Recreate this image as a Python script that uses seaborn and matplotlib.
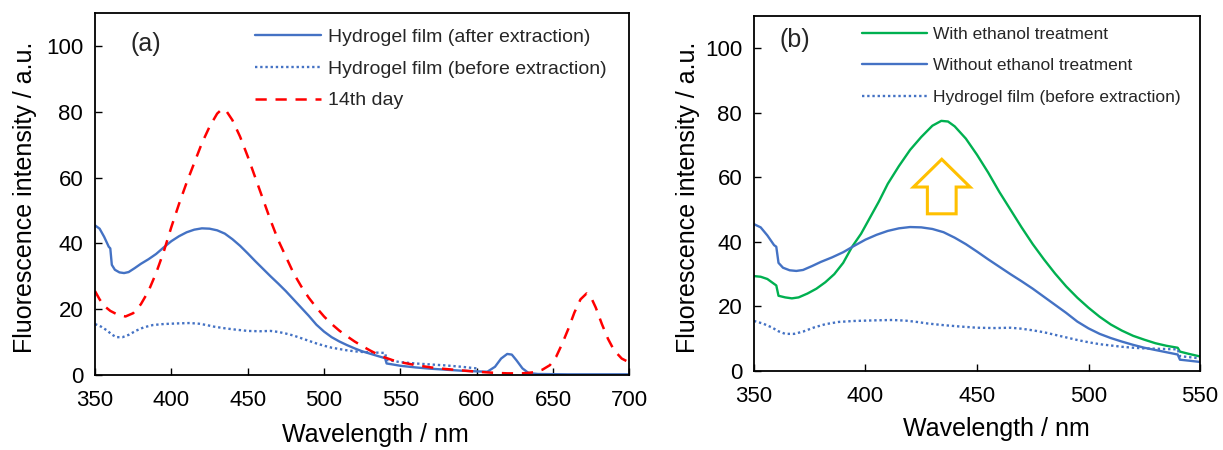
import matplotlib.pyplot as plt
from matplotlib.patches import FancyArrow
import seaborn as sns
import numpy as np

# Hydrogel film (after extraction) == without ethanol treatment
wl_after = [350, 353, 356, 359, 360, 361, 363, 366, 369, 372, 376, 380, 385, 390, 395,
            400, 405, 410, 415, 420, 425, 430, 435, 440, 445, 450, 455, 460, 465, 470,
            475, 480, 485, 490, 495, 500, 505, 510, 515, 520, 525, 530, 535, 540, 541,
            545, 550, 560, 570, 580, 590, 600, 607, 612, 616, 620, 623, 626, 630, 634,
            640, 660, 700]
int_after = [45.5, 44.5, 42, 39, 38.5, 33.5, 32, 31.2, 31, 31.3, 32.5, 33.8, 35.2, 36.8, 38.8,
             40.7, 42.2, 43.4, 44.2, 44.6, 44.5, 44, 43, 41.3, 39.3, 37, 34.6, 32.3, 30, 27.8,
             25.5, 23, 20.5, 18, 15.3, 13.2, 11.5, 10.2, 9.1, 8.1, 7.2, 6.5, 5.8, 5.1, 3.5,
             3.2, 2.8, 2.3, 1.9, 1.6, 1.3, 1.1, 1.0, 2.5, 5, 6.4, 6.2, 4.5, 2.0, 0.6,
             0.3, 0.2, 0.2]

# Hydrogel film (before extraction)
wl_before = [350, 354, 358, 361, 364, 368, 372, 377, 382, 388, 395, 405, 412, 418, 423,
             428, 435, 442, 450, 458, 465, 470, 475, 480, 485, 490, 495, 500, 505, 510,
             515, 520, 525, 530, 535, 540, 541, 545, 550, 560, 570, 580, 590, 600]
int_before = [15.5, 14.7, 13.5, 12.3, 11.5, 11.5, 12.2, 13.5, 14.5, 15.2, 15.5, 15.7, 15.8, 15.6, 15.2,
              14.7, 14.2, 13.8, 13.4, 13.3, 13.4, 13.1, 12.6, 12, 11.2, 10.4, 9.6, 8.9, 8.3, 7.9,
              7.5, 7.2, 7.0, 6.9, 6.8, 6.7, 4.6, 4.3, 3.9, 3.5, 3.2, 2.9, 2.5, 2.0]

# 14th day
wl_day14 = [350, 353, 356, 360, 365, 370, 375, 380, 385, 390, 395, 400, 405, 410, 415,
            420, 425, 430, 433, 436, 440, 445, 450, 455, 460, 465, 470, 475, 480, 485,
            490, 495, 500, 505, 510, 515, 520, 525, 530, 535, 540, 545, 550, 560, 570,
            580, 590, 600, 610, 620, 630, 637, 643, 648, 652, 656, 660, 664, 668, 672,
            675, 678, 682, 686, 690, 695, 700]
int_day14 = [25.5, 23, 21, 19.5, 18.3, 17.8, 18.8, 21.5, 25.5, 31, 37.5, 45, 52, 58.5, 64.5,
             70.5, 75.5, 79.5, 80.8, 80.3, 77.5, 72.5, 66.5, 60, 53.5, 47, 41, 36, 31, 27,
             23.5, 20.5, 17.8, 15.5, 13.5, 11.8, 10.2, 8.8, 7.5, 6.3, 5.3, 4.5, 3.9, 3.0, 2.3,
             1.8, 1.4, 1.0, 0.7, 0.5, 0.5, 0.8, 1.6, 3, 5.5, 9.5, 14, 19, 23, 24.8,
             23.5, 20.5, 15.5, 11, 7.5, 5, 3.8]

# With ethanol treatment
wl_ethanol = [350, 353, 356, 359, 360, 361, 364, 367, 370, 374, 378, 382, 386, 390, 394,
              398, 402, 406, 410, 415, 420, 425, 430, 434, 437, 440, 445, 450, 455, 460,
              465, 470, 475, 480, 485, 490, 495, 500, 505, 510, 515, 520, 525, 530, 535,
              540, 541, 545, 550]
int_ethanol = [29.4, 29.2, 28.5, 27, 26.5, 23.3, 22.8, 22.5, 22.8, 24, 25.5, 27.5, 30, 33.5, 38.5,
               42.5, 47.5, 52.5, 58, 63.5, 68.5, 72.5, 76, 77.5, 77.3, 75.8, 72, 67, 61.5, 55.5,
               50, 44.5, 39.3, 34.6, 30.2, 26.2, 22.7, 19.6, 16.8, 14.4, 12.5, 10.9, 9.7, 8.6, 7.8,
               7.2, 6.0, 5.3, 4.5]

BLUE = '#4472C4'
RED = '#FF0000'
GREEN = '#00B050'
ORANGE = '#FFC000'
DOT = (0, (1, 1.2))
DASH = (0, (4.5, 3.5))

sns.set_theme(style='ticks')
plt.rcParams['font.family'] = ['Liberation Sans', 'DejaVu Sans']

fig = plt.figure(figsize=(12.23, 4.5), dpi=100)
ax_a = fig.add_axes([0.0777, 0.1667, 0.4369, 0.8037])
ax_b = fig.add_axes([0.6165, 0.1756, 0.3647, 0.7889])

# panel (a)
sns.lineplot(x=wl_after, y=int_after, ax=ax_a, color=BLUE, lw=1.7, label='Hydrogel film (after extraction)')
sns.lineplot(x=wl_before, y=int_before, ax=ax_a, color=BLUE, lw=1.7, linestyle=DOT, label='Hydrogel film (before extraction)')
sns.lineplot(x=wl_day14, y=int_day14, ax=ax_a, color=RED, lw=1.8, linestyle=DASH, label='14th day')
ax_a.set_xlim(350, 700)
ax_a.set_xticks(np.arange(350, 701, 50))

# panel (b)
sns.lineplot(x=wl_ethanol, y=int_ethanol, ax=ax_b, color=GREEN, lw=1.7, label='With ethanol treatment')
sns.lineplot(x=wl_after, y=int_after, ax=ax_b, color=BLUE, lw=1.7, label='Without ethanol treatment')
sns.lineplot(x=wl_before, y=int_before, ax=ax_b, color=BLUE, lw=1.7, linestyle=DOT, label='Hydrogel film (before extraction)')
ax_b.set_xlim(350, 550)
ax_b.set_xticks(np.arange(350, 551, 50))

# open block arrow (annotation)
ax_b.add_patch(FancyArrow(434.2, 48.7, 0, 16.9, width=12.9, head_width=25.4, head_length=8.6,
                          length_includes_head=True, fill=False, ec=ORANGE, lw=2.2))

for ax in (ax_a, ax_b):
    ax.set_ylim(0, 110)
    ax.set_yticks(np.arange(0, 101, 20))
    ax.tick_params(axis='both', direction='in', length=5, width=1, color='black', labelsize=16, labelcolor='black')
    ax.tick_params(axis='x', pad=10.5)
    ax.tick_params(axis='y', pad=8.5)
    for s in ax.spines.values():
        s.set_visible(True)
        s.set_color('black')
        s.set_linewidth(1.3)
    ax.set_xlabel('Wavelength / nm', fontsize=18, color='black')
    ax.set_ylabel('Fluorescence intensity / a.u.', fontsize=18, color='black')

ax_a.xaxis.set_label_coords(0.524, -0.133)
ax_a.yaxis.set_label_coords(-0.109, 0.492)
ax_b.xaxis.set_label_coords(0.544, -0.13)
ax_b.yaxis.set_label_coords(-0.121, 0.489)

ax_a.text(0.0955, 0.915, '(a)', transform=ax_a.transAxes, fontsize=18, ha='center', va='center')
ax_b.text(0.091, 0.932, '(b)', transform=ax_b.transAxes, fontsize=18, ha='center', va='center')

ax_a.legend(loc='upper left', bbox_to_anchor=(0.2995, 0.959), frameon=False, fontsize=14,
            borderaxespad=0, borderpad=0, handlelength=3.4, handletextpad=0.36, labelspacing=0.73)
ax_b.legend(loc='upper left', bbox_to_anchor=(0.2415, 0.969), frameon=False, fontsize=12.5,
            borderaxespad=0, borderpad=0, handlelength=3.74, handletextpad=0.38, labelspacing=0.93)

fig.savefig('out.png', dpi=100)
